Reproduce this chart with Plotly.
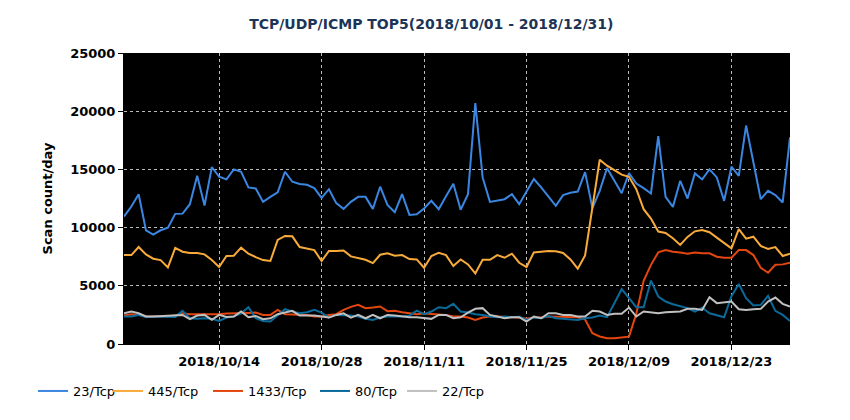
import pandas as pd
import plotly.graph_objects as go

days = pd.date_range("2018-10-01", "2018-12-31", freq="D")

tcp23 = [10950, 11810, 12870, 9770, 9400, 9770, 10000, 11180, 11200, 12010,
         14450, 11900, 15200, 14370, 14140, 15000, 14800, 13450, 13360, 12210,
         12640, 13020, 14800, 13940, 13740, 13680, 13390, 12560, 13300, 12100,
         11610, 12210, 12640, 12640, 11610, 13510, 11950, 11320, 12870, 11090,
         11150, 11640, 12300, 11580, 12700, 13760, 11530, 12870, 20690, 14310,
         12210, 12300, 12440, 12870, 12010, 13100, 14170, 13450, 12670, 11870,
         12790, 12990, 13100, 14770, 11670, 13160, 15120, 14020, 12950, 14680,
         13790, 13390, 12930, 17850, 12640, 11780, 14020, 12500, 14660, 14140,
         15000, 14310, 12300, 15230, 14450, 18770, 15600, 12440, 13160, 12790,
         12160, 17760]

tcp445 = [7640, 7640, 8330, 7700, 7330, 7210, 6580, 8250, 7930, 7820,
          7820, 7700, 7210, 6610, 7560, 7590, 8280, 7760, 7470, 7210,
          7130, 8940, 9280, 9250, 8330, 8190, 8070, 7130, 7990, 7990,
          8040, 7530, 7360, 7240, 6950, 7670, 7790, 7590, 7640, 7300,
          7270, 6550, 7560, 7840, 7640, 6700, 7260, 6840, 6060, 7240,
          7240, 7640, 7410, 7760, 6980, 6610, 7870, 7960, 7990, 7960,
          7820, 7270, 6470, 7610, 11720, 15830, 15320, 14940, 14550, 14370,
          13300, 11580, 10780, 9660, 9540, 9080, 8510, 9200, 9680, 9800,
          9600, 9140, 8710, 8220, 9860, 9050, 9220, 8420, 8160, 8330,
          7560, 7760]

tcp1433 = [2440, 2560, 2500, 2360, 2360, 2360, 2360, 2440, 2640, 2560,
           2560, 2500, 2500, 2560, 2620, 2620, 2670, 2670, 2700, 2500,
           2500, 2930, 2560, 2560, 2500, 2500, 2360, 2360, 2500, 2560,
           2930, 3190, 3360, 3080, 3130, 3220, 2820, 2850, 2730, 2640,
           2560, 2620, 2560, 2500, 2500, 2360, 2360, 2270, 2070, 2270,
           2360, 2360, 2300, 2300, 2270, 2160, 2270, 2270, 2360, 2360,
           2360, 2300, 2300, 2100, 920, 650, 490, 490, 545, 630,
           2600, 5430, 6800, 7870, 8070, 7930, 7870, 7760, 7870, 7790,
           7790, 7500, 7410, 7410, 8070, 8070, 7640, 6550, 6120, 6810,
           6840, 6980]

tcp80 = [2360, 2360, 2500, 2300, 2360, 2360, 2360, 2330, 2850, 2210,
         2160, 2210, 2160, 1980, 2270, 2360, 2640, 3160, 2210, 1980,
         1930, 2500, 2990, 2790, 2640, 2730, 2930, 2700, 2270, 2500,
         2500, 2440, 2360, 2160, 2070, 2270, 2360, 2360, 2360, 2440,
         2870, 2560, 2790, 3160, 3080, 3450, 2790, 2700, 2560, 2500,
         2360, 2300, 2360, 2300, 2330, 2070, 2270, 2210, 2410, 2210,
         2160, 2160, 2070, 2210, 2270, 2440, 2300, 3500, 4710, 3940,
         3160, 3160, 5450, 4080, 3650, 3420, 3280, 3080, 2790, 3130,
         2640, 2500, 2300, 4100, 5150, 3940, 3310, 3360, 4140, 2850,
         2500, 1980]

tcp22 = [2640, 2790, 2640, 2360, 2360, 2410, 2440, 2500, 2500, 2130,
         2440, 2500, 2070, 2500, 2330, 2360, 2790, 2300, 2410, 2130,
         2210, 2560, 2700, 2850, 2440, 2440, 2440, 2360, 2270, 2500,
         2640, 2270, 2500, 2210, 2500, 2210, 2500, 2440, 2360, 2300,
         2300, 2210, 2160, 2500, 2500, 2210, 2300, 2700, 3020, 3080,
         2500, 2360, 2210, 2300, 2300, 1930, 2360, 2210, 2640, 2640,
         2500, 2500, 2360, 2360, 2850, 2790, 2500, 2590, 2590, 3130,
         2360, 2790, 2700, 2640, 2730, 2790, 2790, 3020, 3020, 2930,
         4020, 3510, 3590, 3650, 2990, 2930, 2990, 3020, 3650, 3990,
         3450, 3220]

names = ["23/Tcp", "445/Tcp", "1433/Tcp", "80/Tcp", "22/Tcp"]
colors = ["#3a86e0", "#f8ab3a", "#e4460f", "#0a6a9a", "#c0c0c0"]
tick_dates = ["2018-10-14", "2018-10-28", "2018-11-11", "2018-11-25",
              "2018-12-09", "2018-12-23"]

# one legend per series so each entry sits where the original has it
legend_ids = ["legend", "legend2", "legend3", "legend4", "legend5"]
legend_x = [-0.1366, -0.024, 0.1261, 0.2868, 0.4174]

fig = go.Figure()
for name, vals, col, lg in zip(names, [tcp23, tcp445, tcp1433, tcp80, tcp22], colors, legend_ids):
    fig.add_trace(go.Scatter(x=days, y=vals, mode="lines", name=name, legend=lg,
                             line=dict(color=col, width=2)))

legends = {}
for lg, lx in zip(legend_ids, legend_x):
    legends[lg] = dict(orientation="h", x=lx, xanchor="left", y=-0.11, yanchor="top",
                       font=dict(size=13), itemwidth=30, bgcolor="rgba(0,0,0,0)")

fig.update_layout(
    width=850, height=420,
    margin=dict(l=116, r=68, t=45, b=84),
    paper_bgcolor="white", plot_bgcolor="black",
    font=dict(family="DejaVu Sans", size=13, color="black"),
    title=dict(text="TCP/UDP/ICMP TOP5(2018/10/01 - 2018/12/31)",
               x=0.498, xanchor="center", y=0.962, yanchor="middle",
               font=dict(size=14, color="#1c3557", weight="bold")),
    showlegend=True,
    **legends,
)

fig.update_xaxes(
    type="date", range=["2018-10-01", "2018-12-31"],
    tickvals=tick_dates, tickformat="%Y/%m/%d",
    tickfont=dict(size=13, weight="bold"),
    showgrid=True, gridcolor="#bbbbbb", griddash="dot", gridwidth=1,
    ticks="outside", ticklen=5, tickcolor="black",
    showline=True, linecolor="black", zeroline=False,
)
fig.update_yaxes(
    range=[0, 25000], dtick=5000, tickformat="d",
    tickfont=dict(size=13, weight="bold"),
    title=dict(text="Scan count/day", font=dict(size=13, weight="bold"), standoff=14),
    showgrid=True, gridcolor="#bbbbbb", griddash="dot", gridwidth=1,
    ticks="outside", ticklen=5, tickcolor="black",
    showline=True, linecolor="black", zeroline=False,
)

fig.write_html("out.html")
